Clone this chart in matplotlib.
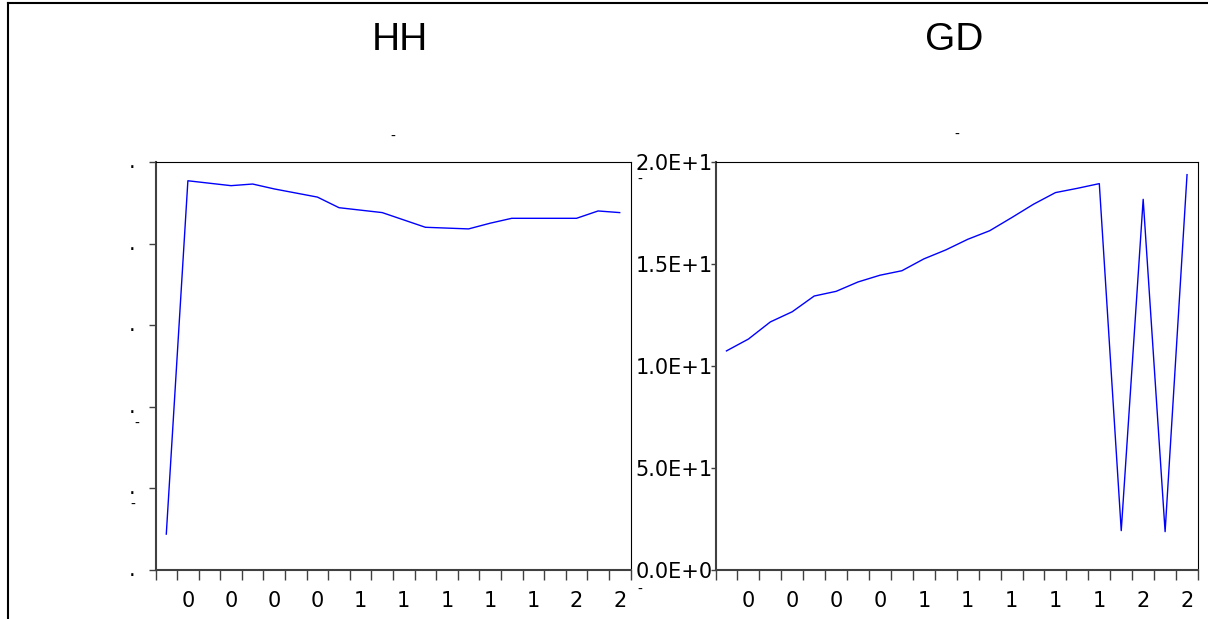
"""Two EViews-style line panels: HH and GD."""

import matplotlib

matplotlib.use("Agg")
import matplotlib.pyplot as plt
from matplotlib.lines import Line2D
from matplotlib.ticker import FixedLocator

W, H = 1208, 619

years = list(range(2002, 2024))
hh = [0.044, 0.477, 0.474, 0.471, 0.473, 0.467, 0.462, 0.457, 0.444, 0.441, 0.438,
      0.429, 0.420, 0.419, 0.418, 0.425, 0.431, 0.431, 0.431, 0.431, 0.440, 0.438]
gd = [10.74, 11.32, 12.16, 12.66, 13.43, 13.66, 14.12, 14.45, 14.67, 15.25, 15.69,
      16.21, 16.63, 17.27, 17.93, 18.50, 18.71, 18.94, 1.93, 18.17, 1.88, 19.38]

x_labels = ["0", "0", "0", "0", "1", "1", "1", "1", "1", "2", "2"]
hh_ticks = [0.0, 0.1, 0.2, 0.3, 0.4, 0.5]
hh_labels = [".", ".", ".", ".", ".", "."]
gd_ticks = [0, 5, 10, 15, 20]
gd_labels = ["0.0E+0", "5.0E+1", "1.0E+1", "1.5E+1", "2.0E+1"]

DARK = "#404040"


def px(x0, y0, x1, y1):
    # pixel box (top-left origin) -> figure fraction rect
    return [x0 / W, 1 - y1 / H, (x1 - x0) / W, (y1 - y0) / H]


def style_axes(ax, n):
    ax.set_xlim(-0.5, n - 0.5)
    ax.xaxis.set_major_locator(FixedLocator(list(range(1, n, 2))))
    ax.set_xticklabels(x_labels)
    ax.xaxis.set_minor_locator(FixedLocator([k - 0.5 for k in range(n + 1)]))
    ax.tick_params(axis="x", which="major", length=0, pad=15, labelsize=15)
    ax.tick_params(axis="x", which="minor", length=7.5, width=1, color=DARK)
    for side in ("left", "bottom"):
        ax.spines[side].set_color(DARK)
        ax.spines[side].set_linewidth(1.5)
    for side in ("top", "right"):
        ax.spines[side].set_color("black")
        ax.spines[side].set_linewidth(0.8)


fig = plt.figure(figsize=(W / 100, H / 100), dpi=100)

x = list(range(len(years)))

ax1 = fig.add_axes(px(155.5, 162, 630.5, 570))
ax1.plot(x, hh, color="#0000ff", linewidth=1.0)
style_axes(ax1, len(years))
ax1.set_ylim(0, 0.5)
ax1.set_yticks(hh_ticks)
ax1.set_yticklabels(hh_labels)
ax1.tick_params(axis="y", length=5, width=1, color=DARK, pad=9.5, labelsize=15)
for lab in ax1.get_yticklabels():
    lab.set_verticalalignment("center")

ax2 = fig.add_axes(px(715.5, 162, 1198, 570))
ax2.plot(x, gd, color="#0000ff", linewidth=1.0)
style_axes(ax2, len(years))
ax2.set_ylim(0, 20)
ax2.set_yticks(gd_ticks)
ax2.set_yticklabels(gd_labels)
ax2.tick_params(axis="y", length=3.6, width=1, color=DARK, pad=-1.5, labelsize=15)

# panel titles
fig.text(400 / W, 1 - 40 / H, "HH", ha="center", va="center",
         fontsize=28, family="Liberation Sans")
fig.text(954 / W, 1 - 40 / H, "GD", ha="center", va="center",
         fontsize=28, family="Liberation Sans")

# stray clipped marks left by the original export
for mx, my in [(393, 137), (957, 135), (137, 424), (133, 505), (640, 180), (640, 590)]:
    fig.text(mx / W, 1 - my / H, "-", ha="center", va="center", fontsize=10)

# outer frame (top and left edges only)
fig.add_artist(Line2D([8 / W, 1], [1 - 3 / H, 1 - 3 / H], transform=fig.transFigure,
                      color="black", linewidth=1.5))
fig.add_artist(Line2D([8 / W, 8 / W], [0, 1 - 3 / H], transform=fig.transFigure,
                      color="black", linewidth=1.5))

fig.savefig("out.png", dpi=100)
